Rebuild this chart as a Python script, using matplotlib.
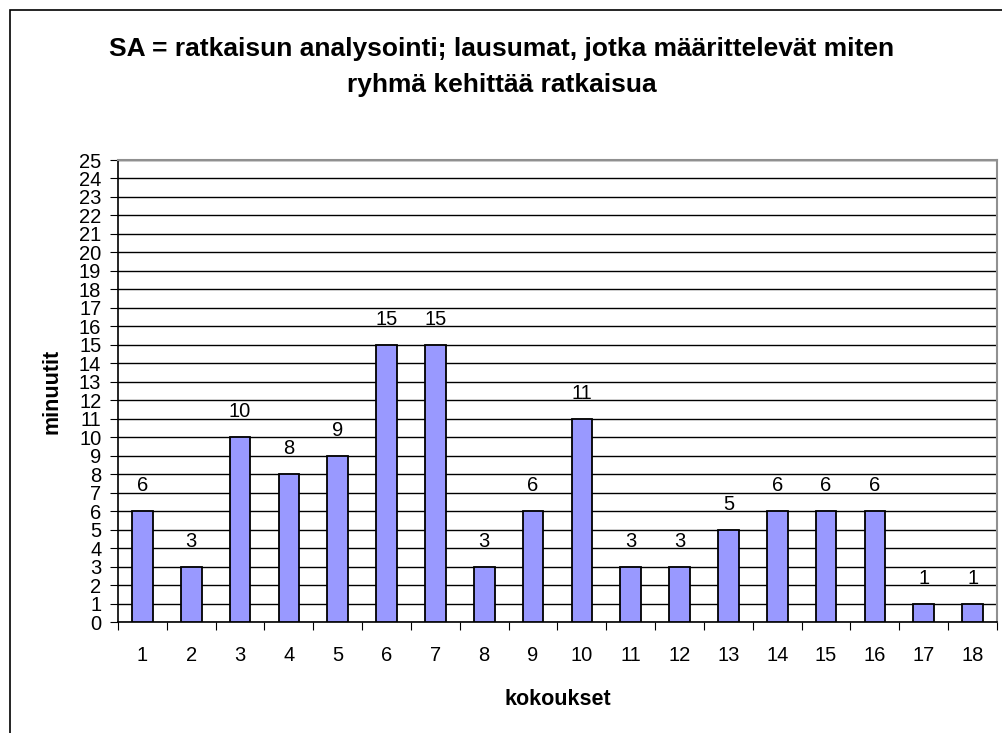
import numpy as np
import matplotlib
matplotlib.use('Agg')
import matplotlib.pyplot as plt
from matplotlib.patches import Rectangle

plt.rcParams['font.family'] = ['Liberation Sans', 'DejaVu Sans']

meetings = [str(i) for i in range(1, 19)]
minutes = [6, 3, 10, 8, 9, 15, 15, 3, 6, 11, 3, 3, 5, 6, 6, 6, 1, 1]
title = 'SA = ratkaisun analysointi; lausumat, jotka määrittelevät miten\nryhmä kehittää ratkaisua'

fig = plt.figure(figsize=(10.03, 7.33), dpi=100)
# outer chart border (runs off the right and bottom edges)
fig.patches.append(Rectangle((10 / 1003, -0.1), 1.1, (733 - 10) / 733 + 0.1,
                             transform=fig.transFigure, fill=False,
                             edgecolor='black', linewidth=1.2))

ax = fig.add_axes([118 / 1003, (733 - 622) / 733, 879 / 1003, 462 / 733])
x = np.arange(len(minutes))
ax.bar(x, minutes, width=0.42, color='#9999ff', edgecolor='black',
       linewidth=1.3, zorder=3)
for xi, v in zip(x, minutes):
    ax.text(xi, v + 1.08, str(v), ha='center', va='baseline', fontsize=14.5)

ax.set_xlim(-0.5, len(minutes) - 0.5)
ax.set_ylim(0, 25)
ax.set_yticks(range(0, 26))
ax.yaxis.grid(True, color='black', linewidth=1.0, zorder=0)
ax.set_axisbelow(True)

ax.set_xticks(np.arange(-0.5, len(minutes)))
ax.set_xticklabels([])
ax.set_xticks(x, minor=True)
ax.set_xticklabels(meetings, minor=True)
ax.tick_params(axis='x', which='major', length=6, direction='out', color='black')
ax.tick_params(axis='x', which='minor', length=0, pad=17.5, labelsize=14.5)
ax.tick_params(axis='y', length=6, direction='out', labelsize=14.5, pad=6)

for s in ['left', 'bottom']:
    ax.spines[s].set_color('black')
    ax.spines[s].set_linewidth(1.2)
for s in ['top', 'right']:
    ax.spines[s].set_color('#909090')
    ax.spines[s].set_linewidth(1.5)

ax.set_ylabel('minuutit', fontsize=15.5, fontweight='bold', labelpad=12)
ax.set_xlabel('kokoukset', fontsize=15.5, fontweight='bold', labelpad=17)
fig.text(0.5, 1 - 67 / 733, title, ha='center', va='center', fontsize=19,
         fontweight='bold', linespacing=1.6)

fig.savefig('out.png', dpi=100)
